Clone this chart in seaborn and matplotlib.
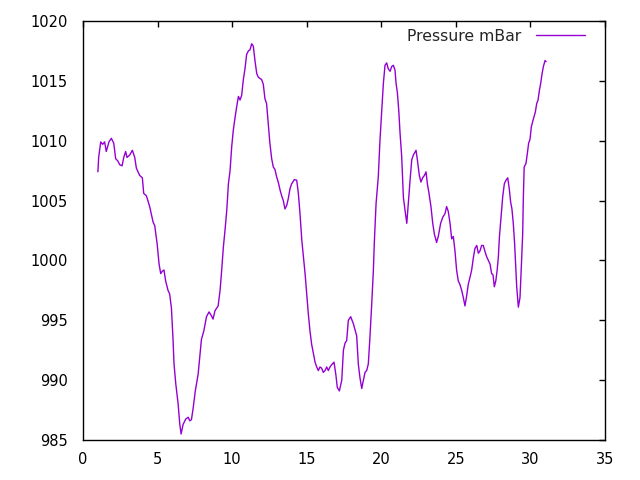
import matplotlib
matplotlib.use("Agg")
import matplotlib.pyplot as plt
import seaborn as sns
import pandas as pd

days = [1.00, 1.05, 1.19, 1.32, 1.45, 1.56, 1.74, 1.90, 2.06, 2.19, 2.34, 2.46, 2.62, 2.73, 2.86, 2.95,
        3.13, 3.31, 3.47, 3.58, 3.80, 3.98, 4.07, 4.25, 4.47, 4.70, 4.81, 4.97, 5.10, 5.21, 5.32, 5.43,
        5.54, 5.70, 5.81, 5.93, 6.04, 6.10, 6.22, 6.38, 6.49, 6.58, 6.71, 6.89, 7.05, 7.16, 7.27, 7.38,
        7.53, 7.72, 7.83, 7.94, 8.10, 8.28, 8.45, 8.60, 8.72, 8.85, 9.06, 9.19, 9.30, 9.41, 9.52, 9.64,
        9.75, 9.86, 9.97, 10.08, 10.19, 10.30, 10.42, 10.53, 10.64, 10.75, 10.86, 10.97, 11.09, 11.20,
        11.31, 11.42, 11.53, 11.65, 11.76, 11.87, 11.98, 12.09, 12.20, 12.31, 12.42, 12.53, 12.65, 12.76,
        12.87, 12.98, 13.10, 13.21, 13.32, 13.43, 13.54, 13.66, 13.77, 13.88, 13.99, 14.17, 14.33, 14.44,
        14.55, 14.67, 14.78, 14.89, 15.00, 15.11, 15.22, 15.33, 15.45, 15.56, 15.67, 15.78, 15.89, 16.00,
        16.11, 16.23, 16.34, 16.45, 16.56, 16.68, 16.83, 16.96, 17.05, 17.19, 17.35, 17.46, 17.57, 17.68,
        17.79, 17.95, 18.13, 18.24, 18.35, 18.46, 18.57, 18.69, 18.80, 18.91, 19.02, 19.13, 19.24, 19.36,
        19.47, 19.53, 19.65, 19.80, 19.91, 20.03, 20.14, 20.25, 20.36, 20.47, 20.59, 20.70, 20.81, 20.92,
        20.99, 21.08, 21.17, 21.26, 21.37, 21.48, 21.59, 21.71, 21.81, 21.93, 22.04, 22.15, 22.33, 22.42,
        22.55, 22.66, 22.77, 22.89, 23.00, 23.09, 23.20, 23.33, 23.45, 23.56, 23.71, 23.82, 23.98, 24.12,
        24.27, 24.38, 24.49, 24.61, 24.72, 24.83, 24.94, 25.05, 25.16, 25.27, 25.39, 25.50, 25.61, 25.72,
        25.83, 25.95, 26.06, 26.17, 26.28, 26.40, 26.51, 26.62, 26.73, 26.84, 26.95, 27.07, 27.18, 27.29,
        27.40, 27.49, 27.58, 27.68, 27.77, 27.85, 27.92, 28.03, 28.14, 28.25, 28.36, 28.48, 28.59, 28.67,
        28.76, 28.85, 28.94, 29.01, 29.08, 29.19, 29.30, 29.36, 29.43, 29.48, 29.52, 29.58, 29.70, 29.79,
        29.88, 29.97, 30.06, 30.15, 30.24, 30.33, 30.42, 30.51, 30.60, 30.69, 30.78, 30.87, 30.98, 31.05]

pressure = [1007.4, 1008.6, 1009.9, 1009.7, 1009.9, 1009.1, 1009.9, 1010.2, 1009.8, 1008.5, 1008.3, 1008.0,
            1007.9, 1008.6, 1009.1, 1008.6, 1008.8, 1009.2, 1008.6, 1007.7, 1007.1, 1006.9, 1005.6, 1005.4,
            1004.5, 1003.2, 1002.9, 1001.4, 999.7, 998.9, 999.1, 999.2, 998.3, 997.5, 997.2, 996.0,
            993.3, 991.4, 989.7, 988.0, 986.3, 985.5, 986.3, 986.75, 986.9, 986.6, 986.7, 987.6,
            989.1, 990.5, 992.0, 993.4, 994.1, 995.3, 995.7, 995.4, 995.1, 995.8, 996.2, 997.5,
            999.2, 1001.1, 1002.5, 1004.2, 1006.4, 1007.5, 1009.5, 1010.9, 1011.9, 1012.8, 1013.7, 1013.4,
            1013.8, 1015.1, 1016.0, 1017.2, 1017.5, 1017.6, 1018.1, 1017.9, 1016.7, 1015.6, 1015.3, 1015.2,
            1015.1, 1014.7, 1013.5, 1013.1, 1011.4, 1009.8, 1008.5, 1007.8, 1007.6, 1007.0, 1006.5, 1005.9,
            1005.4, 1005.0, 1004.3, 1004.6, 1005.2, 1006.0, 1006.4, 1006.75, 1006.7, 1005.6, 1003.9, 1001.7,
            1000.3, 998.9, 997.2, 995.5, 994.1, 993.0, 992.2, 991.5, 991.1, 990.8, 991.1, 991.0,
            990.65, 990.8, 991.1, 990.8, 991.1, 991.3, 991.5, 990.4, 989.4, 989.1, 990.0, 992.5,
            993.1, 993.3, 995.0, 995.3, 994.7, 994.2, 993.7, 991.35, 990.2, 989.3, 990.0, 990.65,
            990.8, 991.35, 993.6, 996.4, 999.2, 1001.4, 1004.75, 1007.0, 1010.0, 1012.55, 1014.8, 1016.3,
            1016.5, 1016.0, 1015.8, 1016.2, 1016.3, 1015.9, 1014.8, 1014.0, 1012.55, 1010.6, 1008.65, 1005.3,
            1004.2, 1003.1, 1004.75, 1006.7, 1008.4, 1008.8, 1009.2, 1008.4, 1007.1, 1006.55, 1006.9, 1007.1,
            1007.4, 1006.4, 1005.6, 1004.5, 1003.1, 1002.2, 1001.5, 1002.0, 1003.1, 1003.6, 1003.9, 1004.5,
            1004.1, 1003.1, 1001.8, 1002.0, 1000.8, 999.2, 998.3, 998.0, 997.5, 996.9, 996.2, 997.0,
            998.0, 998.6, 999.2, 1000.2, 1001.0, 1001.25, 1000.6, 1000.8, 1001.25, 1001.25, 1000.75, 1000.3,
            1000.0, 999.7, 998.9, 998.8, 997.8, 998.3, 999.2, 1000.3, 1001.95, 1003.6, 1005.3, 1006.4,
            1006.7, 1006.9, 1005.9, 1004.9, 1004.3, 1003.1, 1001.4, 999.5, 997.8, 996.1, 996.9, 998.6,
            1000.8, 1002.2, 1005.0, 1007.8, 1008.1, 1008.9, 1009.8, 1010.1, 1011.15, 1011.6, 1012.0, 1012.4,
            1013.1, 1013.4, 1014.2, 1014.8, 1015.6, 1016.2, 1016.7, 1016.6]

x_ticks = [0, 5, 10, 15, 20, 25, 30, 35]
y_ticks = [985, 990, 995, 1000, 1005, 1010, 1015, 1020]
series_label = "Pressure mBar"

sns.set_style("white")
plt.rcParams['font.family'] = ['DejaVu Sans']

df = pd.DataFrame({"day": days, "pressure": pressure, "series": series_label})

fig = plt.figure(figsize=(6.4, 4.8), dpi=100)
ax = fig.add_axes([83/640, 1 - 440/480, (605 - 83)/640, (440 - 21)/480])

sns.lineplot(data=df, x="day", y="pressure", hue="series", palette=["#9400D3"],
             estimator=None, sort=False, linewidth=1.0, ax=ax)

ax.set_xlim(0, 35)
ax.set_ylim(985, 1020)
ax.set_xticks(x_ticks)
ax.set_yticks(y_ticks)
ax.set_xlabel("")
ax.set_ylabel("")
for s in ax.spines.values():
    s.set_visible(True)
    s.set_color("black")
    s.set_linewidth(1.0)
ax.tick_params(axis="both", direction="in", length=4, width=1, color="black",
               top=True, right=True, labelsize=10.5, labelcolor="black")
ax.tick_params(axis="y", pad=11)
ax.tick_params(axis="x", pad=9)

ax.legend(loc="upper right", frameon=False, markerfirst=False, handlelength=3.12,
          handletextpad=0.9, fontsize=11.3, borderaxespad=0.3,
          bbox_to_anchor=(0.982, 1.008))

fig.savefig("out.png", dpi=100)
